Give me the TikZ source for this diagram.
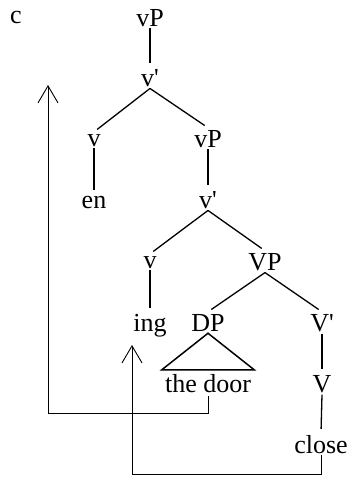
\documentclass[tikz,border=0pt]{standalone}
\usepackage{fontspec}
\setmainfont{Liberation Serif}
\usetikzlibrary{arrows.meta}
\tikzset{
  lbl/.style={anchor=base, inner xsep=0pt, inner ysep=2pt, font=\fontsize{26}{30}\selectfont},
  branch/.style={line width=1.3pt, shorten >=4pt},
  move/.style={line width=0.9pt, -{Straight Barb[length=17pt,width=20pt]}},
}
\newcommand{\pr}{\textquotesingle}
\begin{document}
\begin{tikzpicture}[x=1pt,y=-1pt]
\useasboundingbox (0,0) rectangle (348,477);
\node[lbl] (c) at (16,23) {c};
\node[lbl] (vPtop) at (150,26) {vP};
\node[lbl] (vbar1) at (150,86) {v\pr};
\node[lbl] (vhead1) at (94,146) {v};
\node[lbl] (vPlow) at (208,147) {vP};
\node[lbl] (en) at (94,208) {en};
\node[lbl] (vbar2) at (208,208) {v\pr};
\node[lbl] (vhead2) at (150,268) {v};
\node[lbl] (VP) at (265,270) {VP};
\node[lbl] (ing) at (150,331) {ing};
\node[lbl] (DP) at (208,331) {DP};
\node[lbl] (Vbar) at (322,331) {V\pr};
\node[lbl, inner xsep=3pt, inner ysep=4pt] (door) at (208,392) {the door};
\node[lbl] (Vhead) at (322,392) {V};
\node[lbl] (close) at (321,453) {close};

\draw[branch] (vPtop.south) -- (vbar1.north);
\draw[branch] (vbar1.south) -- (vhead1.north);
\draw[branch] (vbar1.south) -- (vPlow.north);
\draw[branch] (vhead1.south) -- (en.north);
\draw[branch] (vPlow.south) -- (vbar2.north);
\draw[branch] (vbar2.south) -- (vhead2.north);
\draw[branch] (vbar2.south) -- (VP.north);
\draw[branch] (vhead2.south) -- (ing.north);
\draw[branch] (VP.south) -- (DP.north);
\draw[branch] (VP.south) -- (Vbar.north);
\draw[branch] (Vbar.south) -- (Vhead.north);
\draw[branch] (Vhead.south) -- (close.north);
\draw[line width=1.5pt] (DP.south) -- (door.north west) -- (door.north east) -- cycle;

\coordinate (t1) at (48,85);
\coordinate (t2) at (132,345);
\draw[move] (door.south) -- ++(0,17) -| (t1);
\draw[move] (close.south) -- ++(0,19) -| (t2);
\end{tikzpicture}
\end{document}
